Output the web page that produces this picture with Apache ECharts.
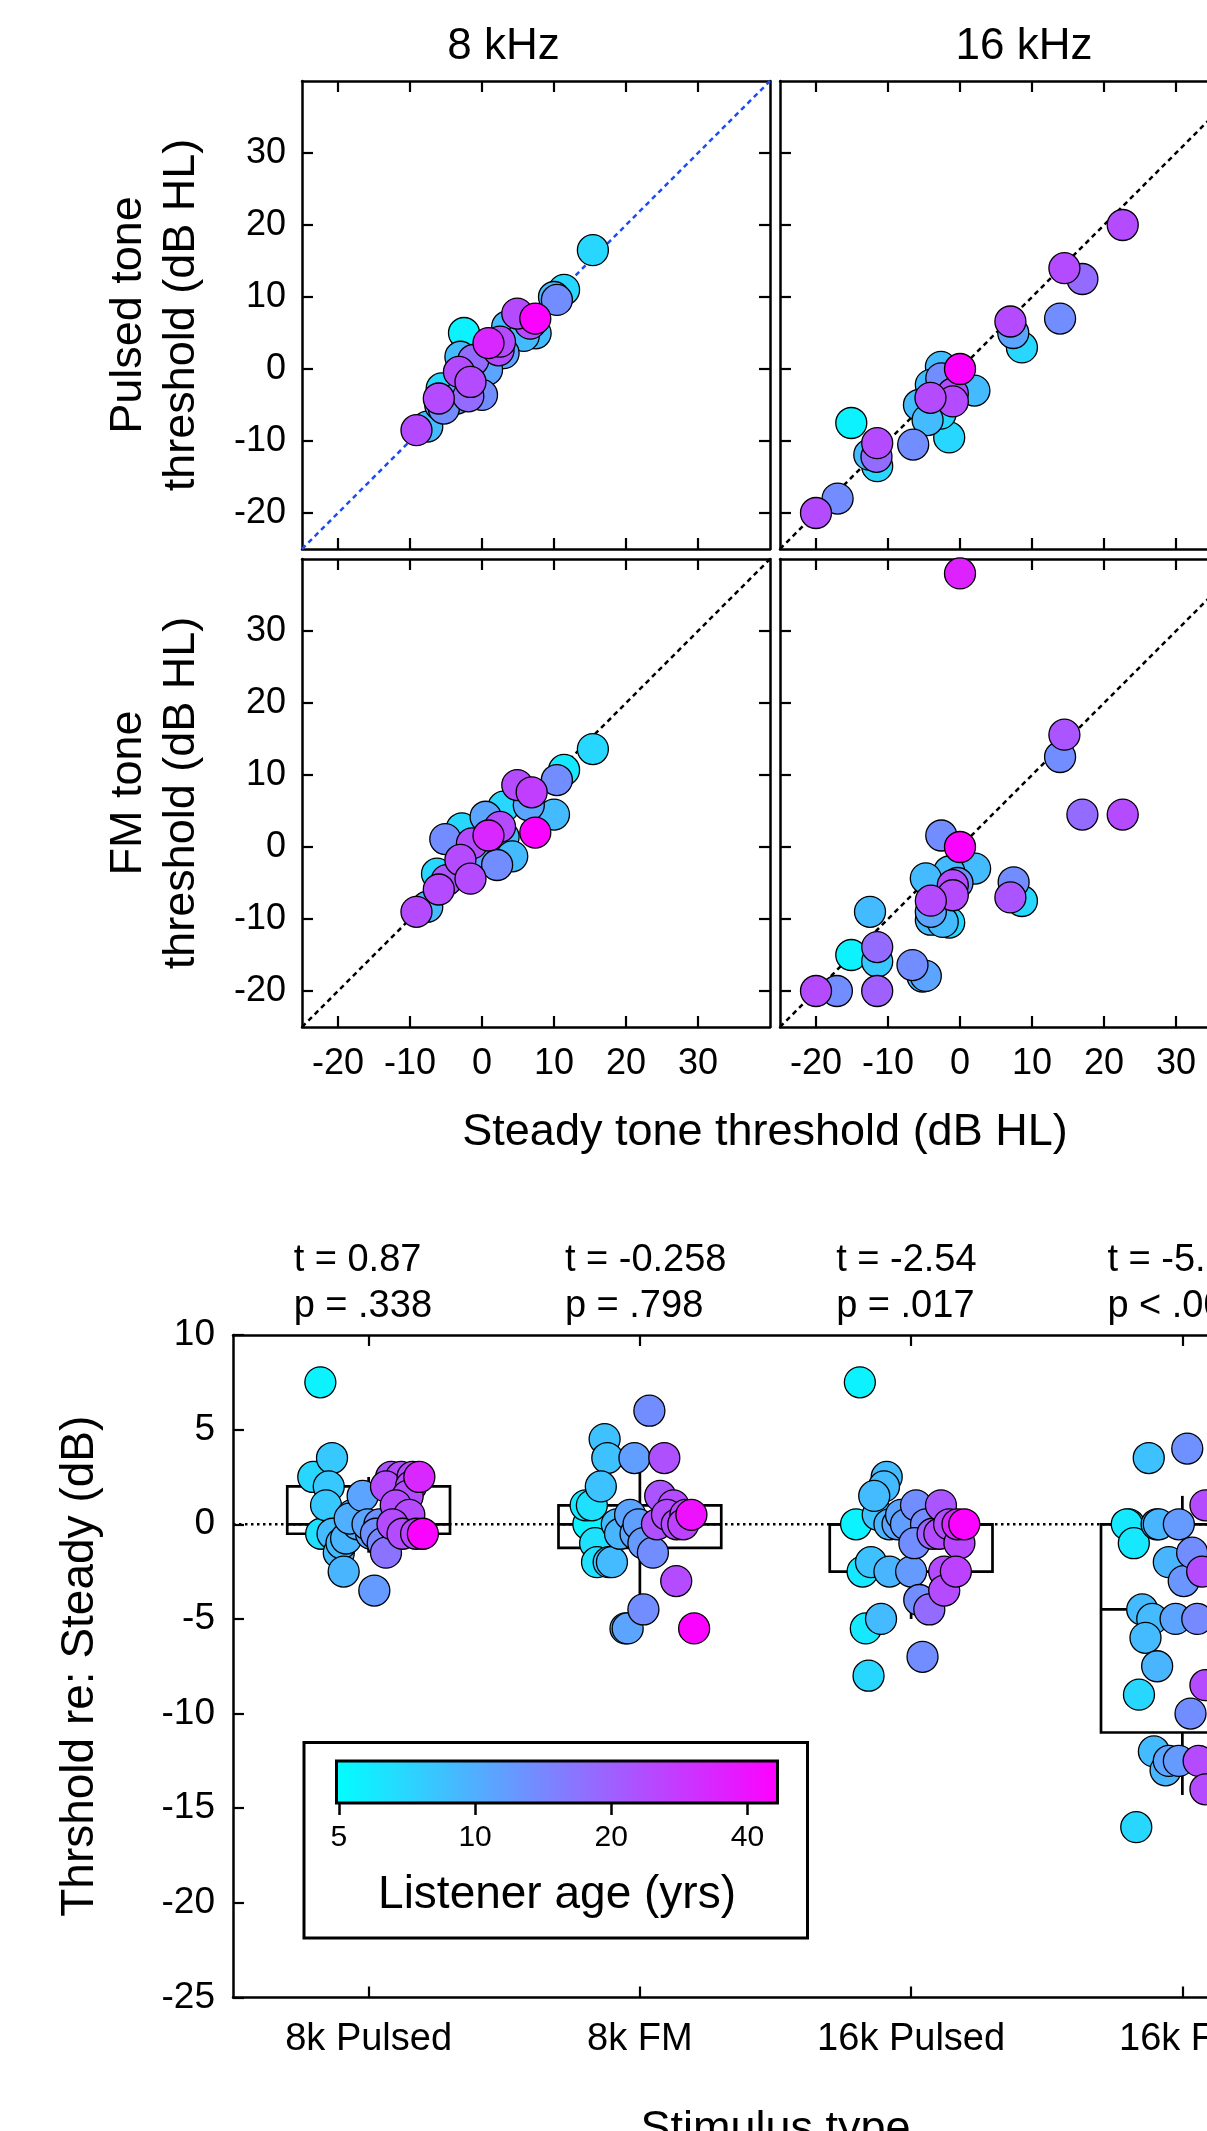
<!DOCTYPE html>
<html>
<head>
<meta charset="utf-8">
<script src="https://cdn.jsdelivr.net/npm/echarts@6/dist/echarts.min.js"></script>
<style>
html,body{margin:0;padding:0;background:#fff;}
#c{width:1207px;height:2131px;}
</style>
</head>
<body>
<div id="c"></div>
<script>
// ---------------- DATA ----------------
// Top: steady-tone threshold (x) vs pulsed / FM threshold (y), dB HL; listener age (yrs)
const p8Steady = [15.4,11.4,10.0,10.4,7.45,6.7,4.9,7.4,3.5,3.0,2.3,2.5,0.9,-2.5,-3.0,-1.2,0.7,-3.2,0,-1.6,-1.9,-3.5,-5.6,-5.3,-6.0,-7.6,-9.1,5.8,-5.8];
const p8Pulsed = [16.5,11.0,10.0,9.6,4.95,6.3,7.7,7.0,5.9,2.2,2.6,3.8,3.6,5.0,1.7,1.25,-0.1,-0.4,-3.6,-1.8,-3.8,-4.1,-2.7,-5.5,-4.1,-8.0,-8.5,4.6,-5.0];
const p8Age    = [7,7,9,13.5,9,24,24,45,9,11,24,24,33,5.5,9,18,11,24,13.5,24,18,11,7,13.5,24,9,24,9,9];

const p16Steady = [22.6,14.5,17.0,13.9,7.0,7.4,8.6,0,-2.65,-2.6,2.0,-4.05,-1.0,-1.0,-4.1,-5.7,-4.5,-1.5,-6.5,-15.1,-11.5,-11.6,-12.6,-11.5,-17.0,-20,-2.7];
const p16Pulsed = [20,14.0,12.5,7.0,6.6,5.0,3.0,0,0.3,-1.3,-3.0,-2.2,-3.4,-4.5,-4.0,-5.0,-7.1,-9.5,-10.5,-7.5,-10.3,-12.2,-11.9,-13.5,-18.0,-20,-6.2];
const p16Age    = [24,24,18,13.5,24,11,7,45,9,13.5,9,9,24,24,24,9,9,7,13.5,5.5,24,18,9,7,13.5,24,7];

const fm8Steady = [15.4,11.4,10.4,10.0,7.4,6.9,4.9,6.5,3.0,0.5,2.5,3.0,0.9,-2.8,-5.1,-1.4,0.2,4.2,2.1,-3.0,-1.6,-6.0,-6.25,-4.9,-7.6,-9.1];
const fm8Tone   = [13.6,10.7,9.3,4.5,2.0,7.6,8.6,5.8,5.6,4.2,2.8,1.4,1.6,2.6,1.1,0.5,-1.3,-1.3,-2.5,-1.8,-4.4,-5.9,-3.7,-4.6,-8.3,-9.0];
const fm8Age    = [7,6,13.5,9,45,27,24,11,7,11,24,9,33,7,13.5,24,11,9,13.5,24,24,24,7,22,9,24];

const fm16Steady = [0,14.5,13.9,17.0,22.6,-2.6,0,2.1,-1.5,-4.75,-0.35,-1.0,-1.0,-4.05,-4.05,-4.05,-1.5,-2.4,7.45,7.0,8.6,-12.5,-15.1,-11.5,-11.5,-11.5,-6.6,-5.2,-4.75,-17.1,-20];
const fm16Tone   = [38.0,15.6,12.5,4.5,4.5,1.6,0,-3.0,-3.4,-4.35,-5.0,-5.3,-6.7,-7.45,-9.0,-10.1,-10.5,-10.4,-4.9,-7.0,-7.5,-9.0,-15.0,-15.9,-13.9,-20.0,-16.4,-18.0,-17.9,-20.0,-20];
const fm16Age    = [35,22,13.5,18,24,13.5,45,9,9,9,13.5,24,24,24,11,9,7,9,13.5,22,7,9,5.5,8,18,20,13.5,9,11,13.5,24];

const scatterTicks = [-20,-10,0,10,20,30];

// Bottom: threshold re: steady (dB) per stimulus type; jitter (category units), value, age
const cats   = ['8k Pulsed','8k FM','16k Pulsed','16k FM'];
const tStats = ['t = 0.87','t = -0.258','t = -2.54','t = -5.31'];
const pStats = ['p = .338','p = .798','p = .017','p < .001'];

const d8PulsedJit = [-0.178,-0.135,-0.204,-0.19,-0.147,-0.157,-0.175,-0.133,-0.11,-0.10,-0.092,0.021,-0.022,0.064,0.04,0.009,0.083,0.12,0.064,0.162,0.187,0.156,0.144,0.1,0.15,0.088,0.125,0.175,0.2,-0.059,-0.04,-0.004,0.027,0.052,-0.083,-0.07];
const d8PulsedVal = [7.5,3.5,2.5,2.5,2.0,1.0,-0.5,-0.5,-1.5,-1.0,-2.5,-3.5,1.5,-1.5,0,-0.5,2.5,2.5,2.0,2.5,2.5,2.0,1.5,1.0,0.5,0,-0.5,-0.5,-0.5,0.5,0,0,-0.5,-1.0,-0.75,0.3];
const d8PulsedAge = [5.5,8,7,5.5,8,8,6.5,9,9,9,9.5,12,11,17,13,11,23,24,24,24,33,24,24,24,24,24,24,26,45,10,10,11,13,14,9.5,10];

const d8FMJit = [0.035,-0.13,-0.12,-0.02,0.09,-0.144,-0.2,-0.177,-0.19,-0.165,-0.158,-0.103,-0.115,-0.085,-0.073,-0.036,-0.005,-0.016,0.013,0.048,0.075,0.124,0.063,0.1,0.136,0.16,0.19,0.168,0.134,0.013,-0.053,-0.045,0.2];
const d8FMVal = [6.0,4.5,3.5,3.5,3.5,2.0,1.0,1.0,0,-1.0,-2.0,-2.0,-2.0,0,-0.5,0.5,0,-0.5,-1.0,-1.5,1.5,1.0,0,0.5,0,0,0.5,0.5,-3.0,-4.5,-5.5,-5.5,-5.5];
const d8FMAge = [13.5,8.5,8.5,11.5,23,8.5,6,6.5,5.5,6.5,6.5,9,8.5,9,9.5,11,11.5,11,12,13.5,22,24,23,24,24,26,40,25,24,13.5,9.5,11,45];

const d16PulsedJit = [-0.189,-0.09,-0.1,-0.136,-0.123,-0.203,-0.08,-0.05,-0.037,0.018,0.11,-0.019,0.055,0.012,0.079,0.104,0.14,0.178,0.196,0.171,-0.179,-0.148,-0.08,0,0.122,0.165,0.122,0.03,0.067,-0.167,-0.111,0.042,-0.157];
const d16PulsedVal = [7.5,2.5,2.0,1.5,0.5,0,0,0,0.5,1.0,1.0,0,0,-1.0,-0.5,-0.5,0,-1.0,0,0,-2.5,-2.0,-2.5,-2.5,-2.5,-2.5,-3.5,-4.0,-4.5,-5.5,-5.0,-7.0,-8.0];
const d16PulsedAge = [5.5,9,9,9,8.5,5.5,9.5,11,11,13.5,22,11.5,13.5,13.5,20,24,24,25,45,33,6,8.5,9.5,12,24,26,24,13.5,18,6,9,13.5,7];

const d16FMJit = [-0.124,0.018,-0.197,-0.205,-0.179,-0.095,-0.087,-0.013,0.085,-0.05,0.036,0.005,0.073,-0.148,-0.111,-0.025,0.055,-0.136,-0.093,-0.16,0.03,0.085,-0.105,-0.062,-0.05,-0.013,0.06,0.085,-0.17];
const d16FMVal = [3.5,4.0,0,0,-1.0,0,0,0,1.0,-2.0,-1.5,-3.0,-2.5,-4.5,-5.0,-5.0,-5.0,-6.0,-7.5,-9.0,-10.0,-8.5,-12.0,-13.0,-12.5,-12.5,-12.5,-14.0,-16.0];
const d16FMAge = [8.5,13,5.5,6,6,9,9.5,12,24,9.5,13.5,12.5,24,9,9,11,14,9,9.5,7,13.5,24,9,9.5,11,12,24,24,7];

// box: [low whisker, q1, median, q3, high whisker]
const boxStats = [[-1.5,-0.5,0,2.0,2.5],[-4.5,-1.25,0,1.0,3.5],[-5.0,-2.5,0,0,1.0],[-14.3,-11.0,-4.5,0,1.5]];

// colour bar
const ageTicks = [5,10,20,40];
const AGE_MIN = 4.94, AGE_MAX = 46.6;

// ---------------- HELPERS ----------------
const FF = "'Liberation Sans', Arial, Helvetica, sans-serif";
function ageColor(a){
  const l0 = Math.log2(AGE_MIN), l1 = Math.log2(AGE_MAX);
  let t = (Math.log2(a) - l0) / (l1 - l0);
  t = Math.max(0, Math.min(1, t));
  return 'rgb(' + Math.round(255*t) + ',' + Math.round(255*(1-t)) + ',255)';
}
function pts(xs, ys, ages){
  const arr = xs.map((x,i)=>({value:[x, ys[i], ages[i]], itemStyle:{color:ageColor(ages[i])}}));
  arr.sort((a,b)=>a.value[2]-b.value[2]);
  return arr;
}
const black = '#000';
const AX_W = 2.5;

const panels = [
  {left:302, top:81,  xs:p8Steady,  ys:p8Pulsed,  ages:p8Age,  diag:'#1a4dff', yName:'Pulsed tone\nthreshold (dB HL)', showY:true,  showX:false},
  {left:780, top:81,  xs:p16Steady, ys:p16Pulsed, ages:p16Age, diag:black, yName:'', showY:false, showX:false},
  {left:302, top:559, xs:fm8Steady, ys:fm8Tone,   ages:fm8Age, diag:black, yName:'FM tone\nthreshold (dB HL)', showY:true, showX:true},
  {left:780, top:559, xs:fm16Steady,ys:fm16Tone,  ages:fm16Age,diag:black, yName:'', showY:false, showX:true}
];

const grids = [], xAxes = [], yAxes = [], series = [];

function valAxis(gi, pos, showLabel, isX, extra){
  return Object.assign({
    gridIndex: gi, type:'value', min:-25, max:40, position: pos,
    axisLine:{show:true, onZero:false, lineStyle:{color:black, width:AX_W}},
    axisTick:{show:true, inside:true, length:11, lineStyle:{color:black, width:2.2}, customValues: scatterTicks},
    axisLabel:{show:showLabel, customValues: scatterTicks, fontSize:36, fontFamily:FF, color:black, margin: isX ? 19 : 16},
    splitLine:{show:false}
  }, extra || {});
}

panels.forEach((p, i)=>{
  grids.push({left:p.left, top:p.top, width:468, height:468, outerBoundsMode:'none', containLabel:false});
  xAxes.push(valAxis(i, 'bottom', p.showX, true));
  xAxes.push(valAxis(i, 'top', false, true));
  const yExtra = p.yName ? {name:p.yName, nameLocation:'middle', nameRotate:90, nameGap:94,
      nameTextStyle:{fontSize:45, lineHeight:53, fontFamily:FF, color:black}} : {};
  yAxes.push(valAxis(i, 'left', p.showY, false, yExtra));
  yAxes.push(valAxis(i, 'right', false, false));
  series.push({type:'line', xAxisIndex:2*i, yAxisIndex:2*i, data:[[-25,-25],[40,40]], symbol:'none', silent:true,
    lineStyle:{color:p.diag, width:2.5, type:[5,4]}, z:1, animation:false});
  series.push({type:'scatter', xAxisIndex:2*i, yAxisIndex:2*i, data:pts(p.xs, p.ys, p.ages), symbol:'circle', symbolSize:31,
    itemStyle:{borderColor:black, borderWidth:1.3, opacity:1}, z:3, animation:false});
});

// Bottom chart: grid 4
grids.push({left:233, top:1335, width:1085, height:662.5, outerBoundsMode:'none', containLabel:false});
xAxes.push({gridIndex:4, type:'category', data:cats, position:'bottom', boundaryGap:true,
  axisLine:{show:true, onZero:false, lineStyle:{color:black, width:AX_W}},
  axisTick:{show:true, inside:true, alignWithLabel:true, length:11, lineStyle:{color:black, width:2.2}},
  axisLabel:{show:true, interval:0, fontSize:38, fontFamily:FF, color:black, margin:23},
  splitLine:{show:false},
  name:'Stimulus type', nameLocation:'middle', nameGap:110, nameTextStyle:{fontSize:45, fontFamily:FF, color:black}
}); // index 8
xAxes.push({gridIndex:4, type:'category', data:cats, position:'top', boundaryGap:true,
  axisLine:{show:true, onZero:false, lineStyle:{color:black, width:AX_W}},
  axisTick:{show:true, inside:true, alignWithLabel:true, length:11, lineStyle:{color:black, width:2.2}},
  axisLabel:{show:true, interval:0, margin:5,
    formatter:(v, i)=>'{a|' + tStats[i] + '}\n{a|' + pStats[i] + '}',
    rich:{a:{fontSize:38, lineHeight:46, width:150, align:'left', fontFamily:FF, color:black}}},
  splitLine:{show:false}
}); // index 9
xAxes.push({gridIndex:4, type:'value', min:-0.5, max:3.5, show:false, position:'bottom', offset:0}); // index 10
yAxes.push({gridIndex:4, type:'value', min:-25, max:10, interval:5, position:'left',
  axisLine:{show:true, onZero:false, lineStyle:{color:black, width:AX_W}},
  axisTick:{show:true, inside:true, length:11, lineStyle:{color:black, width:2.2}},
  axisLabel:{show:true, fontSize:37, fontFamily:FF, color:black, margin:18},
  splitLine:{show:false},
  name:'Thrshold re: Steady (dB)', nameLocation:'middle', nameRotate:90, nameGap:130,
  nameTextStyle:{fontSize:46, fontFamily:FF, color:black}
}); // index 8

series.push({type:'line', xAxisIndex:10, yAxisIndex:8, data:[[-0.5,0],[3.5,0]], symbol:'none', silent:true,
  lineStyle:{color:black, width:2.5, type:[2.5,3.5]}, z:1, animation:false});

series.push({type:'custom', xAxisIndex:10, yAxisIndex:8, z:2, silent:true, animation:false,
  data: boxStats.map((s,i)=>[i].concat(s)),
  encode:{x:0, y:[1,2,3,4,5]},
  renderItem:function(params, api){
    const i = api.value(0), lo = api.value(1), q1 = api.value(2), med = api.value(3), q3 = api.value(4), hi = api.value(5);
    const hw = 0.3;
    const tl = api.coord([i-hw, q3]), br = api.coord([i+hw, q1]);
    const mL = api.coord([i-hw, med]), mR = api.coord([i+hw, med]);
    const cHi = api.coord([i, hi]), cQ3 = api.coord([i, q3]), cQ1 = api.coord([i, q1]), cLo = api.coord([i, lo]);
    const st = {stroke:black, lineWidth:2.7, fill:null};
    return {type:'group', children:[
      {type:'line', shape:{x1:cHi[0], y1:cHi[1], x2:cQ3[0], y2:cQ3[1]}, style:st},
      {type:'line', shape:{x1:cQ1[0], y1:cQ1[1], x2:cLo[0], y2:cLo[1]}, style:st},
      {type:'rect', shape:{x:tl[0], y:tl[1], width:br[0]-tl[0], height:br[1]-tl[1]}, style:{stroke:black, lineWidth:2.7, fill:'rgba(0,0,0,0)'}},
      {type:'line', shape:{x1:mL[0], y1:mL[1], x2:mR[0], y2:mR[1]}, style:st}
    ]};
  }
});

const diffSets = [
  [d8PulsedJit, d8PulsedVal, d8PulsedAge],
  [d8FMJit, d8FMVal, d8FMAge],
  [d16PulsedJit, d16PulsedVal, d16PulsedAge],
  [d16FMJit, d16FMVal, d16FMAge]
];
diffSets.forEach((d, ci)=>{
  series.push({type:'scatter', xAxisIndex:10, yAxisIndex:8, symbol:'circle', symbolSize:31, z:3, animation:false,
    itemStyle:{borderColor:black, borderWidth:1.3, opacity:1},
    data: pts(d[0].map(j=>ci + j), d[1], d[2])});
});

// Colour bar: grid 5
grids.push({left:336.5, top:1761, width:441, height:42, show:true, outerBoundsMode:'none', containLabel:false,
  borderColor:black, borderWidth:3,
  backgroundColor:{type:'linear', x:0, y:0, x2:1, y2:0,
    colorStops:[{offset:0, color:ageColor(AGE_MIN)}, {offset:1, color:ageColor(AGE_MAX)}]}});
xAxes.push({gridIndex:5, type:'value', min:Math.log2(AGE_MIN), max:Math.log2(AGE_MAX), position:'bottom',
  axisLine:{show:false, onZero:false},
  axisTick:{show:true, inside:false, length:12, lineStyle:{color:black, width:2.5}, customValues: ageTicks.map(Math.log2)},
  axisLabel:{show:true, customValues: ageTicks.map(Math.log2), formatter:v=>String(Math.round(Math.pow(2, v))),
    fontSize:30, fontFamily:FF, color:black, margin:20},
  splitLine:{show:false},
  name:'Listener age (yrs)', nameLocation:'middle', nameGap:69, nameTextStyle:{fontSize:46, fontFamily:FF, color:black}
}); // index 11
yAxes.push({gridIndex:5, type:'value', min:0, max:1, show:false}); // index 9

const option = {
  animation:false,
  backgroundColor:'#fff',
  textStyle:{fontFamily:FF},
  grid: grids, xAxis: xAxes, yAxis: yAxes, series: series,
  graphic:[
    {type:'text', x:503.5, y:46.7, style:{text:'8 kHz', fontSize:44, fontFamily:FF, fill:black, align:'center', verticalAlign:'middle'}},
    {type:'text', x:1024, y:46.7, style:{text:'16 kHz', fontSize:44, fontFamily:FF, fill:black, align:'center', verticalAlign:'middle'}},
    {type:'text', x:765, y:1132.6, style:{text:'Steady tone threshold (dB HL)', fontSize:45, fontFamily:FF, fill:black, align:'center', verticalAlign:'middle'}},
    {type:'rect', shape:{x:304, y:1742.5, width:503.5, height:195.5}, style:{fill:'none', stroke:black, lineWidth:3}, z:10}
  ]
};
const chart = echarts.init(document.getElementById('c'), null, {renderer:'canvas', width:1207, height:2131});
chart.setOption(option);
</script>
</body>
</html>
